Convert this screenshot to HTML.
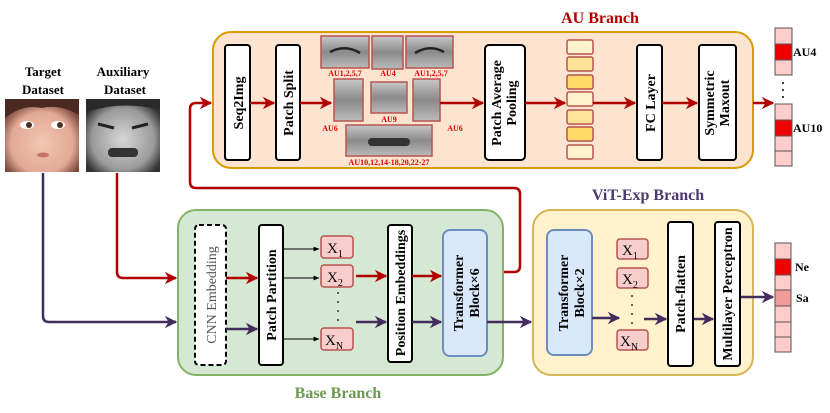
<!DOCTYPE html>
<html><head><meta charset="utf-8"><style>
html,body{margin:0;padding:0;background:#fff;}
svg{display:block;}
text{font-family:"Liberation Serif",serif;font-weight:bold;}
text.n{font-weight:normal;}
</style></head><body>
<svg width="830" height="413" viewBox="0 0 830 413" xmlns="http://www.w3.org/2000/svg">
<defs>
<marker id="ar" viewBox="0 0 10 10" refX="9" refY="5" markerWidth="5" markerHeight="5" orient="auto"><path d="M0,0 L10,5 L0,10 L3,5 z" fill="#b00000"/></marker>
<marker id="ap" viewBox="0 0 10 10" refX="9" refY="5" markerWidth="5" markerHeight="5" orient="auto"><path d="M0,0 L10,5 L0,10 L3,5 z" fill="#432d5c"/></marker>
<marker id="ak" viewBox="0 0 10 10" refX="9" refY="5" markerWidth="6" markerHeight="6" orient="auto"><path d="M0,1 L10,5 L0,9 z" fill="#000"/></marker>
<radialGradient id="kid" cx="50%" cy="60%" r="60%"><stop offset="0" stop-color="#f2c6b4"/><stop offset="0.7" stop-color="#e3a996"/><stop offset="1" stop-color="#7a4a3a"/></radialGradient>
<radialGradient id="gry" cx="50%" cy="55%" r="60%"><stop offset="0" stop-color="#d8d8d8"/><stop offset="0.7" stop-color="#9a9a9a"/><stop offset="1" stop-color="#333"/></radialGradient>
<linearGradient id="gc" x1="0" y1="0" x2="0" y2="1"><stop offset="0" stop-color="#c8c8c8"/><stop offset="0.5" stop-color="#8a8a8a"/><stop offset="1" stop-color="#bbb"/></linearGradient>
</defs>

<!-- left datasets -->
<text x="43" y="76" font-size="13" text-anchor="middle">Target</text>
<text x="43" y="94" font-size="13" text-anchor="middle">Dataset</text>
<text x="123" y="76" font-size="13" text-anchor="middle">Auxiliary</text>
<text x="125" y="94" font-size="13" text-anchor="middle">Dataset</text>
<rect x="5" y="99" width="74" height="73" fill="url(#kid)"/>
<path d="M5,99 H79 V115 Q60,104 42,108 Q22,104 5,118 z" fill="#4a2a20"/>
<ellipse cx="27" cy="125" rx="7" ry="4" fill="#fff"/><circle cx="29" cy="125" r="3" fill="#4a3020"/>
<ellipse cx="58" cy="125" rx="7" ry="4" fill="#fff"/><circle cx="60" cy="125" r="3" fill="#4a3020"/>
<ellipse cx="43" cy="155" rx="6" ry="2.5" fill="#c9766a"/>
<rect x="86" y="99" width="74" height="73" fill="url(#gry)"/>
<path d="M86,99 H160 V110 Q123,100 86,112 z" fill="#2a2a2a"/>
<path d="M98,124 L114,128 M132,128 L148,124" stroke="#222" stroke-width="3"/>
<rect x="108" y="148" width="30" height="9" rx="4" fill="#333"/>

<!-- connectors left -->
<path d="M43,173 V316 Q43,322 49,322 H176" fill="none" stroke="#432d5c" stroke-width="2.5" marker-end="url(#ap)"/>
<path d="M117,173 V272 Q117,278 123,278 H176" fill="none" stroke="#b00000" stroke-width="2.5" marker-end="url(#ar)"/>

<!-- AU branch -->
<text x="600" y="23" font-size="16" fill="#b00000" text-anchor="middle">AU Branch</text>
<rect x="213" y="32" width="540" height="136" rx="18" fill="#fde4d0" stroke="#d79b00" stroke-width="2"/>
<path d="M487,272 H514 Q520,272 520,266 V194 Q520,188 514,188 H196 Q190,188 190,182 V109 Q190,103 196,103 H211" fill="none" stroke="#b00000" stroke-width="2.5" marker-end="url(#ar)"/>

<rect x="225" y="45" width="25" height="115" rx="3" fill="#fff" stroke="#000" stroke-width="2"/>
<text transform="translate(243,103) rotate(-90)" font-size="14" text-anchor="middle">Seq2Img</text>
<rect x="276" y="45" width="24" height="115" rx="3" fill="#fff" stroke="#000" stroke-width="2"/>
<text transform="translate(293,103) rotate(-90)" font-size="14" text-anchor="middle">Patch Split</text>

<g stroke="#b85450" stroke-width="1.5">
<rect x="321" y="36" width="48" height="32" fill="url(#gc)"/>
<rect x="372" y="36" width="31" height="33" fill="url(#gc)"/>
<rect x="406" y="36" width="47" height="32" fill="url(#gc)"/>
<rect x="334" y="79" width="29" height="42" fill="url(#gc)"/>
<rect x="371" y="82" width="36" height="31" fill="url(#gc)"/>
<rect x="413" y="79" width="27" height="42" fill="url(#gc)"/>
<rect x="346" y="125" width="86" height="31" fill="url(#gc)"/>
</g>
<path d="M330,52 Q345,44 360,53 M415,53 Q430,44 444,52" stroke="#222" stroke-width="2.5" fill="none"/>
<rect x="368" y="138" width="42" height="8" rx="4" fill="#333"/>
<g fill="#e00000" font-size="8" text-anchor="middle">
<text x="345" y="76">AU1,2,5,7</text><text x="388" y="76">AU4</text><text x="431" y="76">AU1,2,5,7</text>
<text x="389" y="122">AU9</text><text x="330" y="131">AU6</text><text x="455" y="131">AU6</text>
<text x="389" y="165">AU10,12,14-18,20,22-27</text>
</g>

<rect x="485" y="45" width="40" height="115" rx="4" fill="#fff" stroke="#000" stroke-width="2"/>
<text transform="translate(501,103) rotate(-90)" font-size="14" text-anchor="middle">Patch Average</text>
<text transform="translate(516,103) rotate(-90)" font-size="14" text-anchor="middle">Pooling</text>

<g stroke="#b85450" stroke-width="1.5">
<rect x="567" y="40" width="26" height="14" rx="2" fill="#fff2cc"/>
<rect x="567" y="57" width="26" height="14" rx="2" fill="#ffe599"/>
<rect x="567" y="75" width="26" height="14" rx="2" fill="#ffd966"/>
<rect x="567" y="92" width="26" height="14" rx="2" fill="#fff2cc"/>
<rect x="567" y="110" width="26" height="14" rx="2" fill="#ffe599"/>
<rect x="567" y="127" width="26" height="14" rx="2" fill="#ffd966"/>
<rect x="567" y="145" width="26" height="14" rx="2" fill="#fff2cc"/>
</g>

<rect x="637" y="45" width="25" height="115" rx="3" fill="#fff" stroke="#000" stroke-width="2"/>
<text transform="translate(655,103) rotate(-90)" font-size="14" text-anchor="middle">FC Layer</text>
<rect x="699" y="45" width="37" height="115" rx="3" fill="#fff" stroke="#000" stroke-width="2"/>
<text transform="translate(714,103) rotate(-90)" font-size="14" text-anchor="middle">Symmetric</text>
<text transform="translate(729,103) rotate(-90)" font-size="14" text-anchor="middle">Maxout</text>

<g stroke="#b00000" stroke-width="2.5" marker-end="url(#ar)">
<line x1="250" y1="103" x2="274" y2="103"/>
<line x1="300" y1="103" x2="331" y2="103"/>
<line x1="440" y1="103" x2="483" y2="103"/>
<line x1="525" y1="103" x2="565" y2="103"/>
<line x1="593" y1="103" x2="635" y2="103"/>
<line x1="662" y1="103" x2="697" y2="103"/>
<line x1="753" y1="103" x2="773" y2="103"/>
</g>

<g stroke="#555" stroke-width="1">
<rect x="775" y="28" width="17" height="16" fill="#ffcccc"/>
<rect x="775" y="44" width="17" height="16" fill="#ee0000"/>
<rect x="775" y="60" width="17" height="15" fill="#ffcccc"/>
<rect x="775" y="104" width="17" height="16" fill="#ffcccc"/>
<rect x="775" y="120" width="17" height="16" fill="#ee0000"/>
<rect x="775" y="136" width="17" height="15" fill="#ffcccc"/>
<rect x="775" y="151" width="17" height="15" fill="#ffcccc"/>
</g>
<g fill="#000"><circle cx="783" cy="83" r="1"/><circle cx="783" cy="90" r="1"/><circle cx="783" cy="97" r="1"/></g>
<text x="793" y="56" font-size="12">AU4</text>
<text x="793" y="132" font-size="12">AU10</text>

<!-- Base branch -->
<rect x="178" y="210" width="325" height="165" rx="18" fill="#d5e8d4" stroke="#82b366" stroke-width="2"/>
<text x="338" y="398" font-size="16" fill="#6d9a4e" text-anchor="middle">Base Branch</text>
<rect x="195" y="225" width="31" height="140" rx="4" fill="#fff" stroke="#000" stroke-width="2" stroke-dasharray="5,3"/>
<text class="n" transform="translate(216,295) rotate(-90)" font-size="14" fill="#555" text-anchor="middle">CNN Embedding</text>
<rect x="259" y="225" width="24" height="140" rx="3" fill="#fff" stroke="#000" stroke-width="2"/>
<text transform="translate(276,295) rotate(-90)" font-size="14" text-anchor="middle">Patch Partition</text>
<line x1="226" y1="278" x2="257" y2="278" stroke="#b00000" stroke-width="2.5" marker-end="url(#ar)"/>
<line x1="226" y1="329" x2="257" y2="329" stroke="#432d5c" stroke-width="2.5" marker-end="url(#ap)"/>
<g stroke="#000" stroke-width="1" marker-end="url(#ak)">
<line x1="283" y1="249" x2="319" y2="249"/>
<line x1="283" y1="278" x2="319" y2="278"/>
<line x1="283" y1="339" x2="319" y2="339"/>
</g>
<g stroke="#b85450" stroke-width="1.5" fill="#f8cecc">
<rect x="321" y="236" width="32" height="22" rx="3"/>
<rect x="321" y="265" width="32" height="22" rx="3"/>
<rect x="321" y="328" width="32" height="22" rx="3"/>
</g>
<g font-size="15">
<text class="n" x="327" y="253">X<tspan font-size="10" dy="4">1</tspan></text>
<text class="n" x="327" y="282">X<tspan font-size="10" dy="4">2</tspan></text>
<text class="n" x="325" y="345">X<tspan font-size="10" dy="4">N</tspan></text>
</g>
<g fill="#000"><circle cx="338" cy="293" r="0.9"/><circle cx="338" cy="302" r="0.9"/><circle cx="338" cy="311" r="0.9"/><circle cx="338" cy="320" r="0.9"/></g>
<line x1="356" y1="276" x2="386" y2="276" stroke="#b00000" stroke-width="2.5" marker-end="url(#ar)"/>
<line x1="356" y1="322" x2="386" y2="322" stroke="#432d5c" stroke-width="2.5" marker-end="url(#ap)"/>
<rect x="388" y="225" width="24" height="137" rx="3" fill="#fff" stroke="#000" stroke-width="2"/>
<text transform="translate(405,293) rotate(-90)" font-size="14" text-anchor="middle">Position Embeddings</text>
<line x1="412" y1="276" x2="441" y2="276" stroke="#b00000" stroke-width="2.5" marker-end="url(#ar)"/>
<line x1="412" y1="322" x2="441" y2="322" stroke="#432d5c" stroke-width="2.5" marker-end="url(#ap)"/>
<rect x="443" y="230" width="44" height="126" rx="7" fill="#dae8fc" stroke="#6c8ebf" stroke-width="2"/>
<text transform="translate(463,293) rotate(-90)" font-size="14" text-anchor="middle">Transformer</text>
<text transform="translate(479,293) rotate(-90)" font-size="14" text-anchor="middle">Block×6</text>
<line x1="487" y1="322" x2="531" y2="322" stroke="#432d5c" stroke-width="2.5" marker-end="url(#ap)"/>

<!-- ViT branch -->
<text x="648" y="200" font-size="16" fill="#4c3a6e" text-anchor="middle">ViT-Exp Branch</text>
<rect x="533" y="210" width="220" height="165" rx="18" fill="#fff2cc" stroke="#d6b656" stroke-width="2"/>
<rect x="547" y="230" width="45" height="125" rx="7" fill="#dae8fc" stroke="#6c8ebf" stroke-width="2"/>
<text transform="translate(568,293) rotate(-90)" font-size="14" text-anchor="middle">Transformer</text>
<text transform="translate(584,293) rotate(-90)" font-size="14" text-anchor="middle">Block×2</text>
<g stroke="#b85450" stroke-width="1.5" fill="#f8cecc">
<rect x="617" y="239" width="31" height="20" rx="3"/>
<rect x="617" y="268" width="31" height="20" rx="3"/>
<rect x="617" y="330" width="31" height="20" rx="3"/>
</g>
<g font-size="15">
<text class="n" x="622" y="255">X<tspan font-size="10" dy="4">1</tspan></text>
<text class="n" x="622" y="284">X<tspan font-size="10" dy="4">2</tspan></text>
<text class="n" x="620" y="346">X<tspan font-size="10" dy="4">N</tspan></text>
</g>
<g fill="#000"><circle cx="632" cy="296" r="0.9"/><circle cx="632" cy="305" r="0.9"/><circle cx="632" cy="314" r="0.9"/><circle cx="632" cy="323" r="0.9"/></g>
<g stroke="#432d5c" stroke-width="2.5" marker-end="url(#ap)">
<line x1="592" y1="318" x2="619" y2="318"/>
<line x1="644" y1="319" x2="666" y2="319"/>
<line x1="693" y1="319" x2="713" y2="319"/>
<line x1="740" y1="297" x2="773" y2="297"/>
</g>
<rect x="668" y="222" width="25" height="144" rx="3" fill="#fff" stroke="#000" stroke-width="2"/>
<text transform="translate(685,294) rotate(-90)" font-size="14" text-anchor="middle">Patch-flatten</text>
<rect x="715" y="222" width="25" height="144" rx="3" fill="#fff" stroke="#000" stroke-width="2"/>
<text transform="translate(732,294) rotate(-90)" font-size="14" text-anchor="middle">Multilayer Perceptron</text>

<g stroke="#555" stroke-width="1">
<rect x="775" y="243" width="16" height="16" fill="#ffcccc"/>
<rect x="775" y="259" width="16" height="16" fill="#ee0000"/>
<rect x="775" y="275" width="16" height="15" fill="#ffcccc"/>
<rect x="775" y="290" width="16" height="16" fill="#f19c99"/>
<rect x="775" y="306" width="16" height="16" fill="#ffcccc"/>
<rect x="775" y="322" width="16" height="15" fill="#ffcccc"/>
<rect x="775" y="337" width="16" height="15" fill="#ffcccc"/>
</g>
<text x="795" y="271" font-size="12">Ne</text>
<text x="796" y="302" font-size="12">Sa</text>
</svg>
</body></html>
